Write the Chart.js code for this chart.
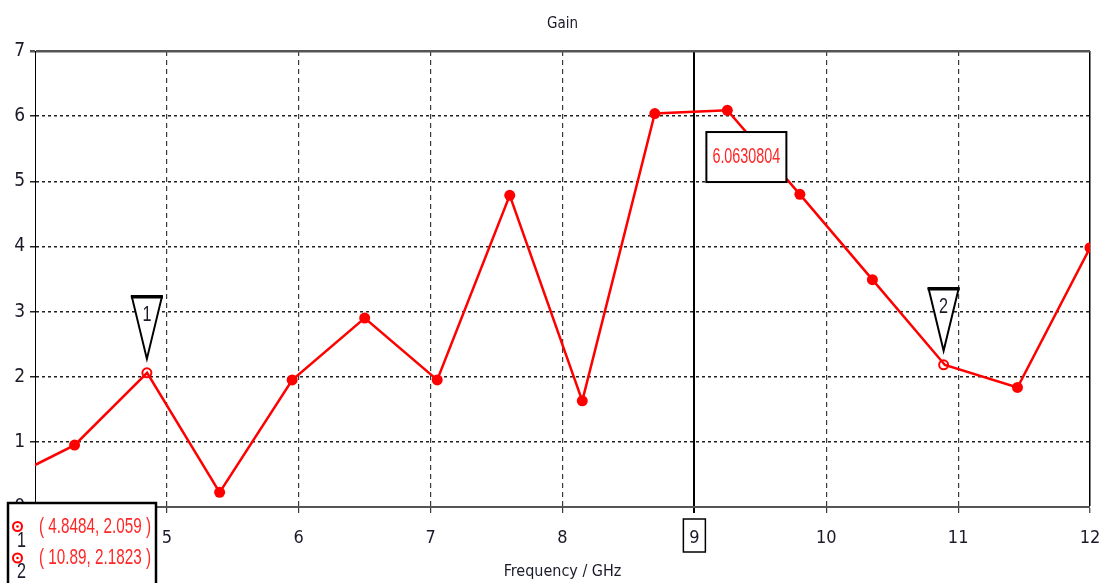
<!DOCTYPE html>
<html>
<head>
<meta charset="utf-8">
<title>Gain</title>
<script src="https://cdn.jsdelivr.net/npm/chart.js@4.4.1/dist/chart.umd.min.js"></script>
<style>
  html, body { margin: 0; padding: 0; background: #fff; overflow: hidden; }
  #wrap { width: 1106px; height: 583px; position: relative; }
</style>
</head>
<body>
<div id="wrap"><canvas id="gainChart" width="1106" height="583"></canvas></div>
<script>
// Sweep samples: frequency (GHz) and gain
const frequencyGHz = [3.75, 4.3, 4.85, 5.4, 5.95, 6.5, 7.05, 7.6, 8.15, 8.7, 9.25, 9.8, 10.35, 10.9, 11.45, 12.0];
const gainValues   = [0.39, 0.95, 2.06, 0.225, 1.95, 2.90, 1.95, 4.785, 1.63, 6.04, 6.09, 4.80, 3.49, 2.18, 1.835, 3.98];

// Placed markers
const markerIds  = ['1', '2'];
const markerFreq = [4.8484, 10.89];
const markerGain = [2.059, 2.1823];

// Vertical cursor and its read-out
const cursorFreq = 9;
const cursorGain = 6.0630804;

// Axis ticks
const xTickValues = [4, 5, 6, 7, 8, 9, 10, 11, 12];
const yTickValues = [0, 1, 2, 3, 4, 5, 6, 7];

const FONT = "'DejaVu Sans Condensed', 'Liberation Sans', sans-serif";
const NOTE_FONT = "'Liberation Sans', 'DejaVu Sans', sans-serif";
const TEXT_DARK = '#1a1a2a';
const RED = '#ff0000';
const NOTE_RED = '#ff2626';

function isMarkerVertex(i) {
  return markerFreq.some(f => Math.abs(frequencyGHz[i] - f) < 0.03);
}

function tickValue(c) {
  return c && c.tick ? c.tick.value : null;
}

// Tall, narrow annotation text: squeezed horizontally into the given width
function narrowText(ctx, text, x, y, size, width, align, color) {
  ctx.save();
  ctx.font = size + 'px ' + NOTE_FONT;
  const w = ctx.measureText(text).width;
  const k = Math.min(1, width / w);
  ctx.translate(x, y);
  ctx.scale(k, 1);
  ctx.fillStyle = color;
  ctx.textAlign = align;
  ctx.textBaseline = 'middle';
  ctx.fillText(text, 0, 0);
  ctx.restore();
}

// Marker triangles, cursor read-out box, boxed cursor tick and marker table
const overlayPlugin = {
  id: 'overlay',
  afterDraw(chart) {
    const { ctx, chartArea, scales: { x, y } } = chart;
    ctx.save();

    // marker flags
    markerFreq.forEach((f, i) => {
      const px = x.getPixelForValue(f);
      const py = y.getPixelForValue(markerGain[i]);
      const tipY = py - 14;
      const topY = py - 76;
      const half = 15;
      ctx.beginPath();
      ctx.moveTo(px - half, topY);
      ctx.lineTo(px + half, topY);
      ctx.lineTo(px, tipY);
      ctx.closePath();
      ctx.fillStyle = '#fff';
      ctx.fill();
      ctx.lineWidth = 2;
      ctx.strokeStyle = '#000';
      ctx.lineJoin = 'miter';
      ctx.stroke();
      ctx.beginPath();
      ctx.moveTo(px - half - 1, topY);
      ctx.lineTo(px + half + 1, topY);
      ctx.lineWidth = 3.5;
      ctx.stroke();
      narrowText(ctx, markerIds[i], px, topY + 18, 22, 9, 'center', TEXT_DARK);
    });

    // cursor read-out
    const cx = x.getPixelForValue(cursorFreq);
    const cy = y.getPixelForValue(cursorGain);
    const bx = cx + 12, by = cy + 20, bw = 80, bh = 50;
    ctx.fillStyle = '#fff';
    ctx.fillRect(bx, by, bw, bh);
    ctx.lineWidth = 2;
    ctx.strokeStyle = '#000';
    ctx.strokeRect(bx, by, bw, bh);
    narrowText(ctx, String(cursorGain), bx + bw / 2, by + bh / 2, 22, 68, 'center', NOTE_RED);

    // boxed tick label at the cursor
    ctx.lineWidth = 1.5;
    ctx.strokeStyle = '#000';
    ctx.strokeRect(cx - 11, chartArea.bottom + 12, 22, 33);

    // marker table
    const lx = chartArea.left - 27, ly = chartArea.bottom - 4;
    ctx.fillStyle = '#fff';
    ctx.fillRect(lx, ly, 148, 100);
    ctx.lineWidth = 2.5;
    ctx.strokeStyle = '#000';
    ctx.strokeRect(lx, ly, 148, 100);
    markerFreq.forEach((f, i) => {
      const rowY = ly + 23.5 + i * 31.5;
      const ix = lx + 9.5;
      ctx.beginPath();
      ctx.arc(ix, rowY, 4.5, 0, Math.PI * 2);
      ctx.lineWidth = 2;
      ctx.strokeStyle = RED;
      ctx.stroke();
      ctx.beginPath();
      ctx.arc(ix, rowY, 1.3, 0, Math.PI * 2);
      ctx.fillStyle = RED;
      ctx.fill();
      narrowText(ctx, markerIds[i], ix + 4, rowY + 14, 22, 9, 'center', TEXT_DARK);
      narrowText(ctx, '( ' + String(f) + ', ' + String(markerGain[i]) + ' )',
                 lx + 31, rowY, 22, 112, 'left', NOTE_RED);
    });

    ctx.restore();
  }
};

const ctx = document.getElementById('gainChart').getContext('2d');
new Chart(ctx, {
  type: 'line',
  data: {
    datasets: [
      {
        label: 'Gain',
        data: frequencyGHz.map((f, i) => ({ x: f, y: gainValues[i] })),
        borderColor: RED,
        backgroundColor: RED,
        borderWidth: 2.5,
        tension: 0,
        pointStyle: 'circle',
        pointRadius: c => (isMarkerVertex(c.dataIndex) ? 0 : 5.5),
        pointBorderWidth: 0,
        pointBackgroundColor: RED
      },
      {
        label: 'Markers',
        data: markerFreq.map((f, i) => ({ x: f, y: markerGain[i] })),
        showLine: false,
        pointStyle: 'circle',
        pointRadius: 4.5,
        pointBorderWidth: 2,
        pointBorderColor: RED,
        pointBackgroundColor: '#fff'
      },
      {
        label: 'Marker centres',
        data: markerFreq.map((f, i) => ({ x: f, y: markerGain[i] })),
        showLine: false,
        pointRadius: 1.3,
        pointBorderWidth: 0,
        pointBackgroundColor: RED
      }
    ]
  },
  options: {
    responsive: false,
    animation: false,
    events: [],
    layout: { padding: { left: 0, right: 16, top: 0, bottom: 0 } },
    plugins: {
      legend: { display: false },
      tooltip: { enabled: false },
      title: {
        display: true,
        text: 'Gain',
        fullSize: false,
        color: TEXT_DARK,
        font: { family: FONT, size: 15, weight: 'normal' },
        padding: { top: 15, bottom: 18 }
      }
    },
    scales: {
      x: {
        type: 'linear',
        min: 4,
        max: 12,
        afterBuildTicks: s => { s.ticks = xTickValues.map(v => ({ value: v })); },
        afterFit: s => { s.height = 76; s.paddingLeft = 0; s.paddingRight = 0; },
        ticks: {
          autoSkip: false,
          maxRotation: 0,
          padding: 15,
          color: TEXT_DARK,
          font: { family: FONT, size: 18 }
        },
        grid: {
          tickLength: 6,
          color: c => {
            const v = tickValue(c);
            if (v === cursorFreq || v === 12) return '#000';
            return '#3a3a3a';
          },
          lineWidth: c => {
            const v = tickValue(c);
            if (v === 4) return 0;
            if (v === cursorFreq) return 2;
            if (v === 12) return 1.5;
            return 1.2;
          },
          tickColor: c => (tickValue(c) === cursorFreq ? '#000' : '#3a3a3a'),
          tickWidth: c => (tickValue(c) === cursorFreq ? 2 : 1.2)
        },
        border: {
          color: '#555',
          width: 2,
          dash: c => {
            const v = tickValue(c);
            return (v === cursorFreq || v === 12) ? [] : [5, 4];
          }
        },
        title: {
          display: true,
          text: 'Frequency / GHz',
          color: TEXT_DARK,
          font: { family: FONT, size: 16 },
          padding: { top: 0, bottom: 2 }
        }
      },
      y: {
        type: 'linear',
        min: 0,
        max: 7,
        afterBuildTicks: s => { s.ticks = yTickValues.map(v => ({ value: v })); },
        afterFit: s => { s.width = 35; },
        ticks: {
          padding: 5,
          color: TEXT_DARK,
          font: { family: FONT, size: 19 }
        },
        grid: {
          tickLength: 5,
          color: c => (tickValue(c) === 7 ? '#555' : '#222'),
          lineWidth: c => {
            const v = tickValue(c);
            if (v === 0) return 0;
            if (v === 7) return 2.5;
            return 1.5;
          },
          tickColor: c => (tickValue(c) === 7 ? '#555' : '#222'),
          tickWidth: c => (tickValue(c) === 7 ? 2.5 : 1.5)
        },
        border: {
          color: '#000',
          width: 1,
          dash: c => (tickValue(c) === 7 ? [] : [3, 3])
        }
      }
    }
  },
  plugins: [overlayPlugin]
});
</script>
</body>
</html>
